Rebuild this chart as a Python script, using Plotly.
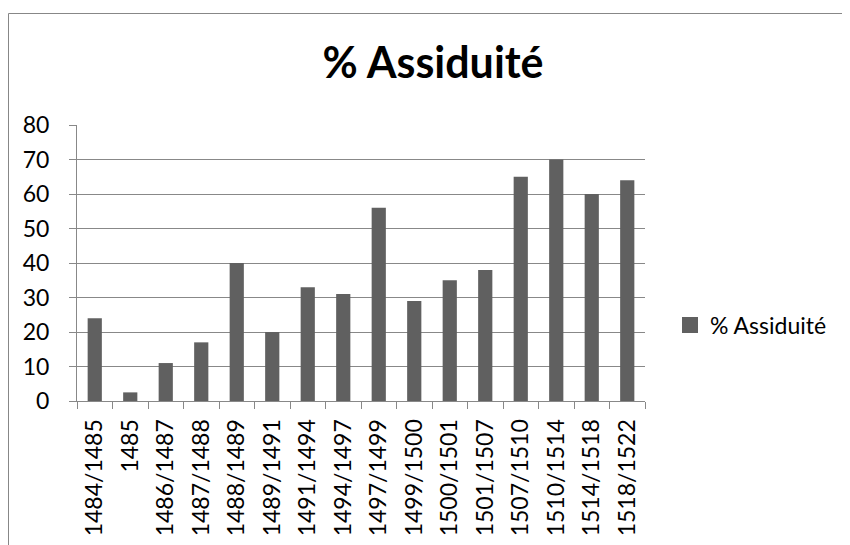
import plotly.graph_objects as go

categories = ["1484/1485", "1485", "1486/1487", "1487/1488", "1488/1489", "1489/1491",
              "1491/1494", "1494/1497", "1497/1499", "1499/1500", "1500/1501", "1501/1507",
              "1507/1510", "1510/1514", "1514/1518", "1518/1522"]
assiduite = [24, 2.5, 11, 17, 40, 20, 33, 31, 56, 29, 35, 38, 65, 70, 60, 64]
y_ticks = [0, 10, 20, 30, 40, 50, 60, 70, 80]
series_name = "% Assiduité"
title_text = "% Assiduité"

OFF = 8  # page body margin offset
W, H = 850 - OFF, 545 - OFF
L, R, T, B = 77 - OFF, 645 - OFF, 125 - OFF, 401 - OFF
FONT = "Lato"
BAR = "#606060"
GRID = "#888888"
BORDER = "#878787"

fig = go.Figure()
fig.add_trace(go.Bar(x=categories, y=assiduite, marker_color=BAR, marker_line_width=0,
                     showlegend=False, name=series_name))
fig.add_trace(go.Scatter(x=[None], y=[None], mode="markers", name=series_name,
                         marker=dict(symbol="square", size=16, color=BAR)))

pw, ph = R - L, B - T
def px_x(v):
    return (v - OFF - L) / pw
def px_y(v):
    return (B - (v - OFF)) / ph

# chart-area border (top and left edges visible within the window)
fig.add_shape(type="line", xref="paper", yref="paper",
              x0=px_x(8.5), x1=px_x(860), y0=px_y(13.5), y1=px_y(13.5),
              line=dict(color=BORDER, width=1), layer="below")
fig.add_shape(type="line", xref="paper", yref="paper",
              x0=px_x(8.5), x1=px_x(8.5), y0=px_y(13.5), y1=px_y(560),
              line=dict(color=BORDER, width=1), layer="below")

fig.update_layout(
    width=W, height=H,
    margin=dict(l=L, r=W - R, t=T, b=H - B, pad=0, autoexpand=False),
    paper_bgcolor="white", plot_bgcolor="white",
    bargap=0.6,
    font=dict(family=FONT, color="black", size=23),
    title=dict(text="<b>" + title_text + "</b>", x=(433 - OFF) / W, xanchor="center",
               y=1 - (63 - OFF) / H, yanchor="middle", font=dict(size=43, family=FONT, color="black")),
    legend=dict(x=px_x(670), xanchor="left", y=px_y(325), yanchor="middle",
                font=dict(size=23, family=FONT, color="black"), bgcolor="rgba(0,0,0,0)"),
    xaxis=dict(type="category", tickangle=-90, ticks="outside", ticklen=7, tickcolor=GRID,
               tickson="boundaries", showline=True, linecolor=GRID, linewidth=1,
               showgrid=False, ticklabelstandoff=8, tickfont=dict(size=23), automargin=False),
    yaxis=dict(range=[0, 80], tickvals=y_ticks, ticks="outside", ticklen=7, tickcolor=GRID,
               showline=True, linecolor=GRID, linewidth=1, showgrid=True, gridcolor=GRID,
               gridwidth=1, zeroline=False, ticklabelstandoff=15, tickfont=dict(size=23),
               automargin=False),
)

fig.write_html("out.html", config={"displayModeBar": False})
